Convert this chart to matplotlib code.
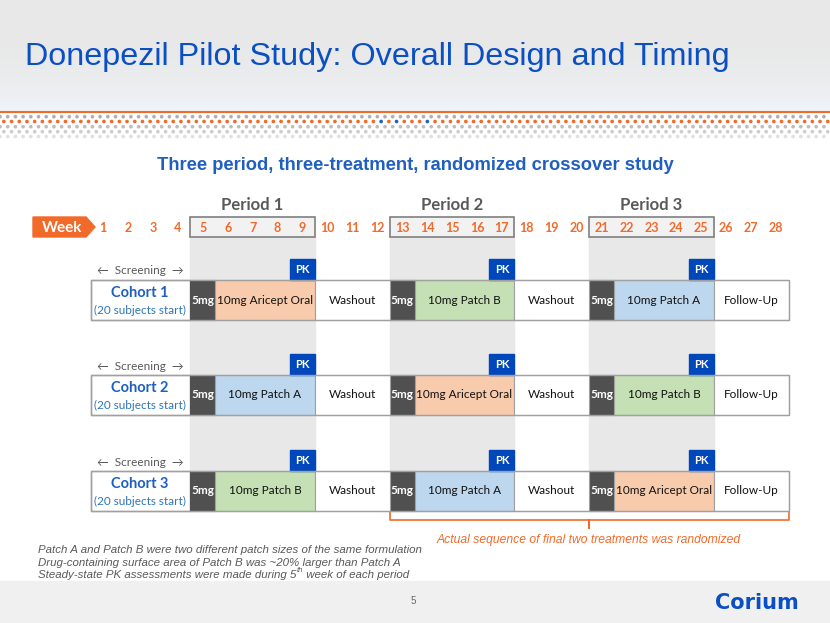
import numpy as np
import matplotlib.pyplot as plt
from matplotlib.patches import Rectangle, Polygon

# ---- data ----
weeks = list(range(1, 29))
period_names = ['Period 1', 'Period 2', 'Period 3']
period_weeks = [(5, 9), (13, 17), (21, 25)]
washout_weeks = [(10, 12), (18, 20)]
followup_weeks = (26, 28)
cohorts = ['Cohort 1', 'Cohort 2', 'Cohort 3']
cohort_sub = '(20 subjects start)'
cohort_treatments = [
    ['10mg Aricept Oral', '10mg Patch B', '10mg Patch A'],
    ['10mg Patch A', '10mg Aricept Oral', '10mg Patch B'],
    ['10mg Patch B', '10mg Patch A', '10mg Aricept Oral'],
]
treatment_colors = {
    '10mg Aricept Oral': '#F8CBAD',
    '10mg Patch A': '#BDD7EE',
    '10mg Patch B': '#C5E0B4',
}
notes = [
    'Patch A and Patch B were two different patch sizes of the same formulation',
    'Drug-containing surface area of Patch B was ~20% larger than Patch A',
]
note3 = ['Steady-state PK assessments were made during 5', 'th', ' week of each period']

ORANGE = '#F26A2A'
BLUE = '#0050C0'
CAL = ['Lato', 'DejaVu Sans']
ARIAL = 'Liberation Sans'

# week geometry on the slide (pixels)
x0, dx = 103, 24.93
def wx(w):
    return x0 + (w - 1) * dx
def wl(w):
    return wx(w) - dx / 2
def wr(w):
    return wx(w) + dx / 2

fig = plt.figure(figsize=(8.3, 6.23), dpi=100)
ax = fig.add_axes([0, 0, 1, 1])
ax.set_xlim(0, 830)
ax.set_ylim(623, 0)
ax.axis('off')

# header background
grad = np.linspace(0, 1, 100)[:, None]
c_top = np.array([0.91, 0.91, 0.91])
c_bot = np.array([0.94, 0.955, 0.975])
img = c_top + (c_bot - c_top) * grad ** 3
ax.imshow(np.repeat(img[:, None, :], 2, axis=1), extent=[0, 830, 111, 0], aspect='auto', zorder=0)
ax.plot([0, 830], [111.5, 111.5], color=ORANGE, lw=1.5, zorder=1)

# dotted band
rows = [(116.7, 0, '#AFAFAF'), (121.5, 1, ORANGE), (126.7, 0, '#BDBDBD'),
        (131.7, 1, '#CDCDCD'), (136.5, 0, '#E0E0E0')]
step = 7.7
for y, off, col in rows:
    xs = np.arange(off * step / 2, 830, step)
    cols = [col] * len(xs)
    if col == ORANGE:
        for i, xv in enumerate(xs):
            if abs(xv - 379) < 3 or abs(xv - 395) < 3 or abs(xv - 426) < 3:
                cols[i] = '#1F5FC8'
    ax.scatter(xs, [y] * len(xs), s=7, c=cols, linewidths=0, zorder=1)

# footer band
ax.add_patch(Rectangle((0, 581), 830, 42, color='#F0F0F0', zorder=0))
ax.text(413, 601, '5', fontsize=7, color='#666666', family=ARIAL, ha='center', va='center')
ax.text(757, 603, 'Corium', fontsize=15, color='#0A4FC4', family='DejaVu Sans',
        fontweight='bold', ha='center', va='center')

# titles
ax.text(25, 57, 'Donepezil Pilot Study: Overall Design and Timing', fontsize=23.3,
        color='#0A4FC4', family=ARIAL, ha='left', va='center')
ax.text(415, 165, 'Three period, three-treatment, randomized crossover study', fontsize=13.2,
        color='#1F5FC0', family=ARIAL, fontweight='bold', ha='center', va='center')

# week pointer
ax.add_patch(Polygon([[33, 217], [86, 217], [95, 227], [86, 237], [33, 237]],
                     closed=True, color=ORANGE, zorder=3))
ax.text(62, 227.5, 'Week', fontsize=11, color='white', fontweight='bold', family=CAL,
        ha='center', va='center', zorder=4)

# periods: gray columns and boxes
for name, (a, b) in zip(period_names, period_weeks):
    ax.add_patch(Rectangle((wl(a), 237), wr(b) - wl(a), 274, color='#E8E8E8', zorder=1))
    ax.add_patch(Rectangle((wl(a), 217), wr(b) - wl(a), 20, facecolor='#F2F2F2',
                           edgecolor='#7F7F7F', lw=1.2, zorder=2))
    ax.text((wl(a) + wr(b)) / 2, 205, name, fontsize=12, fontweight='bold', color='#595959',
            family=CAL, ha='center', va='center')

for w in weeks:
    ax.text(wx(w), 227.5, str(w), fontsize=9, fontweight='bold', color=ORANGE, family=CAL,
            ha='center', va='center', zorder=4)

# cohorts
tops = [280, 375, 471]
h = 40
for ci, (name, top) in enumerate(zip(cohorts, tops)):
    ax.text(140, top - 9, '\u2190  Screening  \u2192', fontsize=8.5, color='#595959',
            family=CAL, ha='center', va='center')
    # label box
    ax.add_patch(Rectangle((wl(1), top), wl(5) - wl(1), h, facecolor='white',
                           edgecolor='#A0A0A0', lw=1, zorder=3))
    ax.text(140, top + 13, name, fontsize=10.5, fontweight='bold', color='#1F5FC0',
            family=CAL, ha='center', va='center', zorder=4)
    ax.text(140, top + 30, cohort_sub, fontsize=8.5, color='#2E75B6',
            family=CAL, ha='center', va='center', zorder=4)
    for pi, (a, b) in enumerate(period_weeks):
        # lead-in 5mg week
        ax.add_patch(Rectangle((wl(a), top), dx, h, facecolor='#505050',
                               edgecolor='#505050', lw=0.8, zorder=3))
        ax.text(wx(a), top + h / 2, '5mg', fontsize=8.5, fontweight='bold', color='white',
                family=CAL, ha='center', va='center', zorder=4)
        tr = cohort_treatments[ci][pi]
        ax.add_patch(Rectangle((wl(a + 1), top), wr(b) - wl(a + 1), h,
                               facecolor=treatment_colors[tr], edgecolor='#A0A0A0',
                               lw=0.8, zorder=3))
        ax.text((wl(a + 1) + wr(b)) / 2, top + h / 2, tr, fontsize=8.5, color='#111111',
                family=CAL, ha='center', va='center', zorder=4)
        # PK marker in last week
        ax.add_patch(Rectangle((wl(b), top - 21), dx, 21, color='#0047BB', zorder=3))
        ax.text(wx(b), top - 10.5, 'PK', fontsize=8, fontweight='bold', color='white',
                family=CAL, ha='center', va='center', zorder=4)
    for a, b in washout_weeks:
        ax.add_patch(Rectangle((wl(a), top), wr(b) - wl(a), h, facecolor='white',
                               edgecolor='#A0A0A0', lw=0.8, zorder=3))
        ax.text((wl(a) + wr(b)) / 2, top + h / 2, 'Washout', fontsize=8.5, color='#111111',
                family=CAL, ha='center', va='center', zorder=4)
    a, b = followup_weeks
    ax.add_patch(Rectangle((wl(a), top), wr(b) - wl(a), h, facecolor='white',
                           edgecolor='#A0A0A0', lw=0.8, zorder=3))
    ax.text((wl(a) + wr(b)) / 2, top + h / 2, 'Follow-Up', fontsize=8.5, color='#111111',
            family=CAL, ha='center', va='center', zorder=4)
    ax.add_patch(Rectangle((wl(1), top), wr(28) - wl(1), h, fill=False,
                           edgecolor='#A0A0A0', lw=1, zorder=5))

# randomization brace
bl, br = wl(13), wr(28)
bm = (bl + br) / 2
ax.plot([bl, bl, bm, bm, bm, br, br], [512, 520, 520, 528, 520, 520, 512],
        color=ORANGE, lw=1.2, zorder=3)
ax.text(bm, 540, 'Actual sequence of final two treatments was randomized', fontsize=8.75,
        style='italic', color=ORANGE, family=ARIAL, ha='center', va='center')

# footnotes
for i, line in enumerate(notes):
    ax.text(38, 550 + i * 12.5, line, fontsize=8.25, style='italic', color='#595959',
            family=ARIAL, ha='left', va='center')
renderer = fig.canvas.get_renderer()
t1 = ax.text(38, 575, note3[0], fontsize=8.25, style='italic', color='#595959',
             family=ARIAL, ha='left', va='center')
bb = t1.get_window_extent(renderer)
x_end = ax.transData.inverted().transform((bb.x1, bb.y0))[0]
t2 = ax.text(x_end + 0.5, 571, note3[1], fontsize=5.5, style='italic', color='#595959',
             family=ARIAL, ha='left', va='center')
bb2 = t2.get_window_extent(renderer)
x_end2 = ax.transData.inverted().transform((bb2.x1, bb2.y0))[0]
ax.text(x_end2, 575, note3[2], fontsize=8.25, style='italic', color='#595959',
        family=ARIAL, ha='left', va='center')

fig.savefig('out.png', dpi=100)
